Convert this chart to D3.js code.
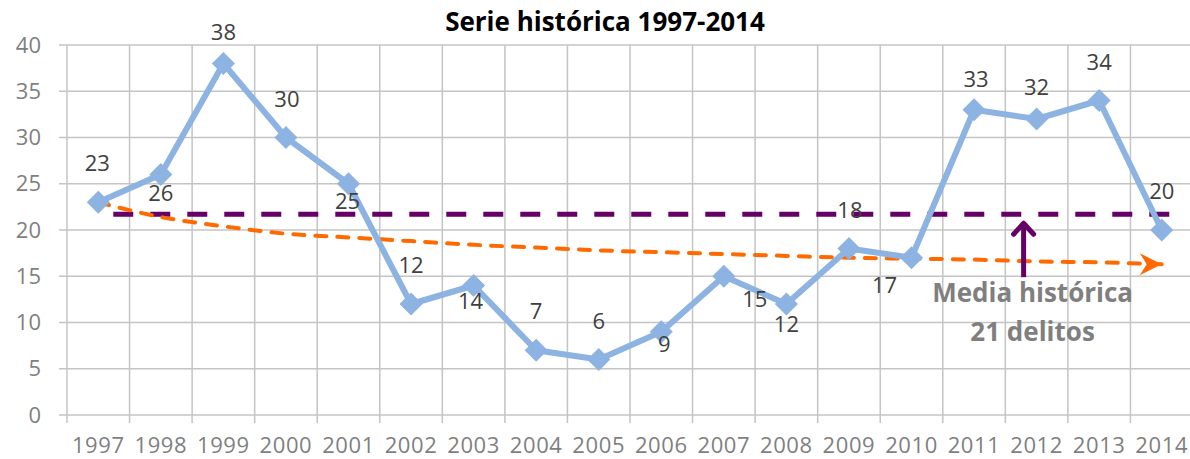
<!DOCTYPE html>
<html>
<head>
<meta charset="utf-8">
<script src="https://cdn.jsdelivr.net/npm/d3@7"></script>
<style>
  body { margin: 0; background: #fff; }
  text { font-family: "Open Sans", sans-serif; }
</style>
</head>
<body>
<div id="chart"></div>
<script>
// Data
var years = ["1997", "1998", "1999", "2000", "2001", "2002", "2003", "2004", "2005",
             "2006", "2007", "2008", "2009", "2010", "2011", "2012", "2013", "2014"];
var delitos = [23, 26, 38, 30, 25, 12, 14, 7, 6, 9, 15, 12, 18, 17, 33, 32, 34, 20];
// hand-drawn trend arrow, value at each year
var trend = [23, 21.4, 20.4, 19.6, 19.2, 18.8, 18.4, 18.1, 17.8, 17.6, 17.4, 17.2,
             17.0, 16.9, 16.8, 16.6, 16.5, 16.3];
var mediaLevel = 21.7;
var yTicks = [0, 5, 10, 15, 20, 25, 30, 35, 40];
var titleText = "Serie histórica 1997-2014";
var noteLines = ["Media histórica", "21 delitos"];

// label placement per point (dx, dy from point centre to label centre)
var labelOffset = [
  [-1, -39], [0, 19], [0, -31], [1, -38], [-1, 18], [0, -39], [-3, 16], [0, -39],
  [0, -38], [3, 13], [31, 23], [0, 20], [1, -38], [-27, 28], [2, -30], [0, -32],
  [0, -38], [0, -39]
];

var svgWidth = 1190;
var svgHeight = 459;

var margin = { top: 45, right: -3, bottom: 44, left: 67 };
var chartWidth = svgWidth - margin.left - margin.right;
var chartHeight = svgHeight - margin.top - margin.bottom;

var svg = d3.select("#chart")
  .append("svg")
  .attr("width", svgWidth)
  .attr("height", svgHeight);

var chartGroup = svg.append("g")
  .attr("transform", `translate(${margin.left}, ${margin.top})`);

var xScale = d3.scaleBand()
  .domain(years)
  .range([0, chartWidth]);

var yScale = d3.scaleLinear()
  .domain([0, 40])
  .range([chartHeight, 0]);

var cx = d => xScale(d) + xScale.bandwidth() / 2;
var gridColor = "#c4c4c4";

// horizontal gridlines + y ticks
chartGroup.selectAll(".hgrid")
  .data(yTicks)
  .enter()
  .append("line")
  .attr("x1", -8)
  .attr("x2", chartWidth)
  .attr("y1", d => yScale(d))
  .attr("y2", d => yScale(d))
  .attr("stroke", gridColor)
  .attr("stroke-width", 1.5);

// vertical gridlines at category boundaries
var bounds = years.map(d => xScale(d)).concat([chartWidth]);
chartGroup.selectAll(".vgrid")
  .data(bounds)
  .enter()
  .append("line")
  .attr("x1", d => d)
  .attr("x2", d => d)
  .attr("y1", 0)
  .attr("y2", chartHeight + 8)
  .attr("stroke", gridColor)
  .attr("stroke-width", 1.5);

// y labels
chartGroup.selectAll(".ylab")
  .data(yTicks)
  .enter()
  .append("text")
  .attr("x", -26)
  .attr("y", d => yScale(d))
  .attr("dy", "0.35em")
  .attr("text-anchor", "end")
  .attr("font-size", 22)
  .attr("fill", "#7f7f7f")
  .text(d => d);

// x labels
chartGroup.selectAll(".xlab")
  .data(years)
  .enter()
  .append("text")
  .attr("x", d => cx(d))
  .attr("y", chartHeight + 38)
  .attr("text-anchor", "middle")
  .attr("font-size", 22)
  .attr("letter-spacing", 0.6)
  .attr("fill", "#7f7f7f")
  .text(d => d);

// mean line (drawn shape)
chartGroup.append("line")
  .attr("x1", cx(years[0]) + 15)
  .attr("x2", cx(years[years.length - 1]) + 19)
  .attr("y1", yScale(mediaLevel))
  .attr("y2", yScale(mediaLevel))
  .attr("stroke", "#660066")
  .attr("stroke-width", 5)
  .attr("stroke-dasharray", "20,17");

// trend arrow
var trendLine = d3.line()
  .x((d, i) => cx(years[i]))
  .y(d => yScale(d))
  .curve(d3.curveMonotoneX);

chartGroup.append("path")
  .attr("d", trendLine(trend))
  .attr("fill", "none")
  .attr("stroke", "#ff6a00")
  .attr("stroke-width", 4)
  .attr("stroke-linecap", "round")
  .attr("stroke-dasharray", "11,11");

var tipX = cx(years[years.length - 1]);
var tipY = yScale(trend[trend.length - 1]);
chartGroup.append("path")
  .attr("d", `M${tipX - 22},${tipY - 11} L${tipX},${tipY} L${tipX - 22},${tipY + 11} L${tipX - 15},${tipY} Z`)
  .attr("fill", "#ff6a00");

// main series
var line = d3.line()
  .x((d, i) => cx(years[i]))
  .y(d => yScale(d));

chartGroup.append("path")
  .attr("d", line(delitos))
  .attr("fill", "none")
  .attr("stroke", "#8db3e2")
  .attr("stroke-width", 6)
  .attr("stroke-linejoin", "round");

chartGroup.selectAll(".marker")
  .data(delitos)
  .enter()
  .append("path")
  .attr("d", d3.symbol().type(d3.symbolDiamond2).size(340))
  .attr("transform", (d, i) => `translate(${cx(years[i])}, ${yScale(d)})`)
  .attr("fill", "#8db3e2");

// data labels
chartGroup.selectAll(".dlab")
  .data(delitos)
  .enter()
  .append("text")
  .attr("x", (d, i) => cx(years[i]) + labelOffset[i][0])
  .attr("y", (d, i) => yScale(d) + labelOffset[i][1])
  .attr("dy", "0.35em")
  .attr("text-anchor", "middle")
  .attr("font-size", 22)
  .attr("fill", "#404040")
  .text(d => d);

// purple arrow pointing to mean line
var arrowX = cx("2012") - 13;
var aTop = yScale(mediaLevel) + 8;
var aBot = yScale(14.9);
chartGroup.append("line")
  .attr("x1", arrowX).attr("x2", arrowX)
  .attr("y1", aTop + 2).attr("y2", aBot)
  .attr("stroke", "#660066")
  .attr("stroke-width", 5);
chartGroup.append("path")
  .attr("d", `M${arrowX - 10},${aTop + 12} L${arrowX},${aTop + 1} L${arrowX + 10},${aTop + 12}`)
  .attr("fill", "none")
  .attr("stroke", "#660066")
  .attr("stroke-width", 5)
  .attr("stroke-linecap", "round")
  .attr("stroke-linejoin", "round");

// annotation text
var note = chartGroup.append("text")
  .attr("x", arrowX + 9)
  .attr("y", yScale(12.2))
  .attr("text-anchor", "middle")
  .attr("font-size", 26)
  .attr("font-weight", "bold")
  .attr("fill", "#7f7f7f");
note.selectAll("tspan")
  .data(noteLines)
  .enter()
  .append("tspan")
  .attr("x", arrowX + 9)
  .attr("dy", (d, i) => i === 0 ? 0 : 39)
  .text(d => d);

// title
svg.append("text")
  .attr("x", 605)
  .attr("y", 31)
  .attr("text-anchor", "middle")
  .attr("font-size", 26)
  .attr("font-weight", "bold")
  .attr("fill", "#000")
  .text(titleText);
</script>
</body>
</html>
